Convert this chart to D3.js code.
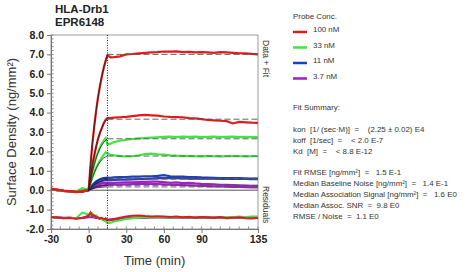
<!DOCTYPE html>
<html lang="en">
<head>
	<meta charset="utf-8">
	<title>HLA-Drb1 EPR6148</title>
	<style type="text/css">
		body { margin: 0; background: #fff; }
		svg { font-family: "Liberation Sans", Arial, sans-serif; }
		.axis path, .axis line { stroke: #777; fill: none; }
		.axis text { font-size: 10.5px; font-weight: bold; fill: #222; }
		.minor line { stroke: #888; }
		.info text { font-size: 7.9px; fill: #333; white-space: pre; }
	</style>
	<script src="https://cdn.jsdelivr.net/npm/d3@7"></script>
</head>
<body>
	<script>
		// time points (min)
		var times = [-30, -25, -20, -15, -10, -5, 0,
			1.5, 3, 4.5, 6, 7.5, 9, 10.5, 12, 13.5, 15, 17.5, 20,
			25, 30, 35, 40, 45, 50, 55, 60, 65, 70, 75, 80, 85, 90, 95, 100, 105, 110, 115, 120, 125, 130, 135];

		// sensorgram data (ng/mm2), one array per curve
		var red1 = [0.08, 0.03, -0.02, -0.05, -0.08, -0.05, 0.02,
			1.3, 2.4, 3.3, 4.1, 4.8, 5.35, 5.85, 6.3, 6.65, 6.95, 6.85, 6.86,
			6.9, 7.0, 7.02, 7.05, 7.08, 7.1, 7.12, 7.15, 7.14, 7.16, 7.12, 7.13, 7.1, 7.12, 7.1, 7.08, 7.12, 7.1, 7.08, 7.06, 7.05, 7.03, 7.0];
		var red2 = [0.06, 0.02, -0.03, -0.06, -0.1, -0.07, 0.0,
			0.7, 1.3, 1.8, 2.25, 2.65, 2.95, 3.2, 3.45, 3.62, 3.72, 3.72, 3.74,
			3.76, 3.78, 3.82, 3.86, 3.88, 3.86, 3.84, 3.8, 3.78, 3.77, 3.76, 3.72, 3.7, 3.66, 3.62, 3.6, 3.58, 3.56, 3.44, 3.52, 3.5, 3.48, 3.47];
		var green1 = [0.05, 0.0, -0.04, -0.05, -0.07, 0.08, 0.02,
			0.5, 0.95, 1.35, 1.7, 1.95, 2.2, 2.4, 2.55, 2.68, 2.35, 2.4, 2.48,
			2.55, 2.6, 2.64, 2.67, 2.69, 2.71, 2.73, 2.75, 2.76, 2.74, 2.76, 2.75, 2.76, 2.74, 2.75, 2.76, 2.74, 2.75, 2.76, 2.74, 2.75, 2.74, 2.74];
		var green2 = [0.04, 0.0, -0.05, -0.06, -0.08, 0.1, 0.0,
			0.35, 0.65, 0.92, 1.15, 1.35, 1.52, 1.68, 1.82, 1.95, 1.9, 1.82, 1.8,
			1.76, 1.74, 1.75, 1.8, 1.86, 1.88, 1.85, 1.83, 1.8, 1.78, 1.77, 1.76, 1.75, 1.74, 1.76, 1.75, 1.74, 1.75, 1.76, 1.75, 1.74, 1.75, 1.75];
		var blue1 = [0.05, 0.01, -0.04, -0.06, -0.08, -0.06, 0.0,
			0.15, 0.27, 0.37, 0.45, 0.51, 0.56, 0.6, 0.62, 0.64, 0.65, 0.64, 0.66,
			0.67, 0.68, 0.7, 0.7, 0.72, 0.72, 0.74, 0.78, 0.72, 0.7, 0.7, 0.68, 0.68, 0.66, 0.65, 0.64, 0.63, 0.62, 0.63, 0.62, 0.6, 0.6, 0.6];
		var blue2 = [0.04, 0.0, -0.03, -0.05, -0.07, -0.06, 0.0,
			0.1, 0.2, 0.28, 0.35, 0.4, 0.44, 0.47, 0.5, 0.52, 0.53, 0.52, 0.53,
			0.54, 0.55, 0.56, 0.57, 0.58, 0.6, 0.62, 0.63, 0.62, 0.62, 0.61, 0.6, 0.6, 0.6, 0.59, 0.6, 0.58, 0.58, 0.59, 0.58, 0.58, 0.57, 0.57];
		var purple1 = [0.05, 0.0, -0.04, -0.05, -0.08, -0.06, 0.0,
			0.08, 0.15, 0.21, 0.26, 0.3, 0.33, 0.35, 0.37, 0.38, 0.38, 0.38, 0.38,
			0.39, 0.4, 0.41, 0.42, 0.43, 0.44, 0.44, 0.42, 0.38, 0.4, 0.36, 0.38, 0.35, 0.33, 0.32, 0.3, 0.28, 0.27, 0.26, 0.25, 0.24, 0.23, 0.22];
		var purple2 = [0.04, 0.0, -0.03, -0.05, -0.07, -0.05, 0.0,
			0.05, 0.1, 0.14, 0.17, 0.2, 0.22, 0.24, 0.25, 0.26, 0.27, 0.27, 0.28,
			0.29, 0.3, 0.31, 0.32, 0.32, 0.33, 0.32, 0.3, 0.28, 0.27, 0.26, 0.25, 0.24, 0.22, 0.21, 0.2, 0.19, 0.18, 0.17, 0.17, 0.16, 0.15, 0.15];

		// association fits (t = 0 .. 15) and dissociation fit levels
		var fitTimes = [0, 1.5, 3, 4.5, 6, 7.5, 9, 10.5, 12, 13.5, 15];
		var fitRed1 = [0, 1.3, 2.4, 3.3, 4.1, 4.8, 5.4, 5.9, 6.3, 6.7, 7.0];
		var fitRed2 = [0, 0.7, 1.3, 1.8, 2.25, 2.65, 2.95, 3.2, 3.42, 3.58, 3.66];
		var fitGreen1 = [0, 0.5, 0.95, 1.33, 1.66, 1.93, 2.15, 2.32, 2.46, 2.57, 2.65];
		var fitGreen2 = [0, 0.35, 0.65, 0.9, 1.12, 1.3, 1.45, 1.57, 1.66, 1.72, 1.76];
		var fitBlue1 = [0, 0.15, 0.27, 0.36, 0.43, 0.49, 0.53, 0.56, 0.59, 0.61, 0.62];
		var fitBlue2 = [0, 0.1, 0.2, 0.28, 0.34, 0.4, 0.44, 0.48, 0.52, 0.55, 0.57];
		var fitPurple1 = [0, 0.06, 0.11, 0.15, 0.18, 0.2, 0.22, 0.23, 0.24, 0.25, 0.25];
		var fitPurple2 = [0, 0.04, 0.07, 0.1, 0.12, 0.13, 0.14, 0.15, 0.16, 0.17, 0.17];
		var dissocLevels = [7.0, 3.66, 2.65, 1.76, 0.62, 0.57, 0.25, 0.17];

		// residuals (offset below the sensorgrams)
		var resRed = [-1.38, -1.42, -1.45, -1.43, -1.47, -1.44, -1.3,
			-1.15, -1.32, -1.3, -1.38, -1.4, -1.45, -1.42, -1.5, -1.45, -1.55, -1.55, -1.5,
			-1.42, -1.35, -1.32, -1.3, -1.33, -1.35, -1.34, -1.36, -1.38, -1.35, -1.4, -1.37, -1.42, -1.38, -1.4, -1.43, -1.38, -1.45, -1.42, -1.4, -1.44, -1.46, -1.43];
		var resGreen = [-1.4, -1.42, -1.44, -1.42, -1.45, -1.15, -1.25,
			-1.3, -1.2, -1.35, -1.3, -1.42, -1.45, -1.5, -1.55, -1.6, -1.7, -1.68, -1.62,
			-1.55, -1.48, -1.45, -1.42, -1.4, -1.4, -1.38, -1.4, -1.42, -1.4, -1.38, -1.4, -1.42, -1.4, -1.38, -1.42, -1.4, -1.38, -1.4, -1.35, -1.38, -1.36, -1.35];
		var resBlue = [-1.38, -1.4, -1.42, -1.42, -1.44, -1.42, -1.38,
			-1.36, -1.38, -1.4, -1.42, -1.44, -1.46, -1.48, -1.5, -1.52, -1.55, -1.54, -1.52,
			-1.48, -1.45, -1.43, -1.42, -1.42, -1.4, -1.4, -1.41, -1.42, -1.41, -1.4, -1.42, -1.41, -1.4, -1.42, -1.41, -1.4, -1.42, -1.41, -1.4, -1.42, -1.41, -1.4];
		var resPurple = [-1.39, -1.41, -1.43, -1.42, -1.44, -1.42, -1.39,
			-1.38, -1.39, -1.41, -1.43, -1.45, -1.47, -1.48, -1.5, -1.5, -1.52, -1.5, -1.48,
			-1.46, -1.44, -1.42, -1.42, -1.41, -1.41, -1.4, -1.4, -1.41, -1.4, -1.41, -1.4, -1.42, -1.41, -1.4, -1.41, -1.42, -1.4, -1.41, -1.4, -1.41, -1.42, -1.41];

		var concLabels = ["100 nM", "33 nM", "11 nM", "3.7 nM"];
		var concColors = ["#e01b1b", "#3ee63e", "#1f3fbf", "#a11fc4"];
		var yTicks = [8, 7, 6, 5, 4, 3, 2, 1, 0, -1, -2];
		var xTicks = [-30, 0, 30, 60, 90, 135];
		var summaryLines = [
			"Fit Summary:",
			"",
			"kon  [1/ (sec·M)]  =    (2.25 ± 0.02) E4",
			"koff  [1/sec]  =    < 2.0 E-7",
			"Kd  [M]  =    < 8.8 E-12",
			"",
			"Fit RMSE [ng/mm²]  =   1.5 E-1",
			"Median Baseline Noise [ng/mm²]  =   1.4 E-1",
			"Median Association Signal [ng/mm²]  =   1.6 E0",
			"Median Assoc. SNR  =  9.8 E0",
			"RMSE / Noise  =  1.1 E0"
		];

		var width = 475, height = 272;
		var pLeft = 51, pRight = 258, pTop = 35, pBottom = 229;

		var x = d3.scaleLinear().domain([-30, 135]).range([pLeft, pRight]);
		var y = d3.scaleLinear().domain([-2, 8]).range([pBottom, pTop]);

		var svg = d3.select("body").append("svg")
			.attr("width", width)
			.attr("height", height);

		// minor ticks
		svg.append("g").attr("class", "minor")
			.selectAll("line").data(d3.range(-2, 8.01, 0.2))
			.enter().append("line")
			.attr("x1", pLeft).attr("x2", pLeft + 2.5)
			.attr("y1", function(d){ return y(d); })
			.attr("y2", function(d){ return y(d); });
		svg.append("g").attr("class", "minor")
			.selectAll("line").data(d3.range(-30, 136, 7.5))
			.enter().append("line")
			.attr("x1", function(d){ return x(d); })
			.attr("x2", function(d){ return x(d); })
			.attr("y1", pBottom).attr("y2", pBottom - 2.5);

		// frame
		svg.append("rect")
			.attr("x", pLeft).attr("y", pTop)
			.attr("width", pRight - pLeft).attr("height", pBottom - pTop)
			.attr("fill", "none").attr("stroke", "#999");

		svg.append("g")
			.attr("class", "y axis")
			.attr("transform", "translate(" + pLeft + ",0)")
			.call(d3.axisLeft(y).tickValues(yTicks).tickSize(4).tickSizeOuter(0)
				.tickFormat(function(d){ return d.toFixed(1); }));

		svg.append("g")
			.attr("class", "x axis")
			.attr("transform", "translate(0," + pBottom + ")")
			.call(d3.axisBottom(x).tickValues(xTicks).tickSize(4).tickSizeOuter(0)
				.tickFormat(function(d){ return d; }));

		// zero line for dissociation baseline
		svg.append("line")
			.attr("x1", x(0)).attr("x2", x(135))
			.attr("y1", y(0)).attr("y2", y(0))
			.attr("stroke", "#555").attr("stroke-width", 1);

		var line = d3.line()
			.x(function(d){ return x(d[0]); })
			.y(function(d){ return y(d[1]); });

		function pairs(ts, vs){
			return ts.map(function(t, i){ return [t, vs[i]]; });
		}

		// residuals
		[[resBlue, concColors[2]], [resPurple, concColors[3]], [resGreen, concColors[1]], [resRed, concColors[0]]]
			.forEach(function(r){
				svg.append("path")
					.attr("d", line(pairs(times, r[0])))
					.attr("fill", "none")
					.attr("stroke", r[1])
					.attr("stroke-width", 2);
			});

		// sensorgrams
		var curves = [
			[purple2, fitPurple2, concColors[3], dissocLevels[7]],
			[purple1, fitPurple1, concColors[3], dissocLevels[6]],
			[blue2, fitBlue2, concColors[2], dissocLevels[5]],
			[blue1, fitBlue1, concColors[2], dissocLevels[4]],
			[green2, fitGreen2, concColors[1], dissocLevels[3]],
			[green1, fitGreen1, concColors[1], dissocLevels[2]],
			[red2, fitRed2, concColors[0], dissocLevels[1]],
			[red1, fitRed1, concColors[0], dissocLevels[0]]
		];
		curves.forEach(function(c){
			svg.append("path")
				.attr("d", line(pairs(times, c[0])))
				.attr("fill", "none")
				.attr("stroke", c[2])
				.attr("stroke-width", 2.2);
		});
		curves.forEach(function(c){
			svg.append("path")
				.attr("d", line(pairs(fitTimes, c[1])))
				.attr("fill", "none")
				.attr("stroke", "#222")
				.attr("stroke-width", 0.8);
			svg.append("line")
				.attr("x1", x(15)).attr("x2", x(135))
				.attr("y1", y(c[3])).attr("y2", y(c[3]))
				.attr("stroke", "#555")
				.attr("stroke-width", 0.9)
				.attr("stroke-dasharray", "6,3");
		});

		// injection end marker
		svg.append("line")
			.attr("x1", x(15)).attr("x2", x(15))
			.attr("y1", pTop).attr("y2", pBottom)
			.attr("stroke", "#222")
			.attr("stroke-width", 1)
			.attr("stroke-dasharray", "1,1.5");

		// titles
		svg.append("text").attr("x", 55).attr("y", 13)
			.attr("font-size", "11.5px").attr("font-weight", "bold").attr("fill", "#222")
			.text("HLA-Drb1");
		svg.append("text").attr("x", 55).attr("y", 25.5)
			.attr("font-size", "11.5px").attr("font-weight", "bold").attr("fill", "#222")
			.text("EPR6148");

		svg.append("text")
			.attr("transform", "translate(16," + ((pTop + pBottom) / 2) + ") rotate(-90)")
			.attr("text-anchor", "middle")
			.attr("font-size", "13px").attr("fill", "#333")
			.text("Surface Density (ng/mm²)");
		svg.append("text")
			.attr("x", (pLeft + pRight) / 2).attr("y", 265)
			.attr("text-anchor", "middle")
			.attr("font-size", "13px").attr("fill", "#333")
			.text("Time (min)");

		svg.append("text")
			.attr("transform", "translate(263,40) rotate(90)")
			.attr("font-size", "8.5px").attr("fill", "#333")
			.text("Data + Fit");
		svg.append("text")
			.attr("transform", "translate(263,186) rotate(90)")
			.attr("font-size", "8.5px").attr("fill", "#333")
			.text("Residuals");

		// legend
		var legend = svg.append("g").attr("class", "info");
		legend.append("text").attr("x", 293).attr("y", 19).attr("font-size", "8.7px").text("Probe Conc.");
		concLabels.forEach(function(l, i){
			var ly = 32 + i * 15.5;
			legend.append("line")
				.attr("x1", 293).attr("x2", 307)
				.attr("y1", ly).attr("y2", ly)
				.attr("stroke", concColors[i]).attr("stroke-width", 2.5);
			legend.append("text").attr("x", 313).attr("y", ly)
				.attr("font-size", "8.7px").text(l);
		});

		var info = svg.append("g").attr("class", "info");
		summaryLines.forEach(function(s, i){
			info.append("text")
				.attr("x", 293).attr("y", 110 + i * 10.9)
				.text(s);
		});
	</script>
</body>
</html>
